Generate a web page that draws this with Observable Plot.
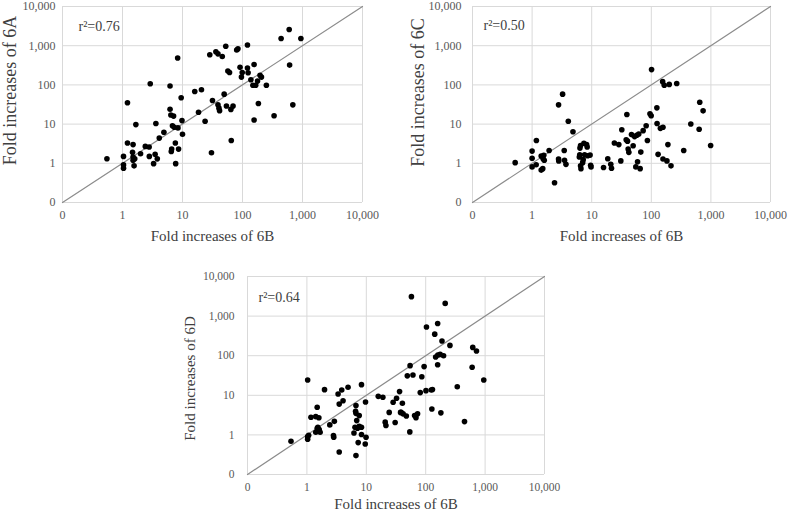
<!DOCTYPE html>
<html><head><meta charset="utf-8">
<script src="https://cdn.jsdelivr.net/npm/d3@7"></script>
<script src="https://cdn.jsdelivr.net/npm/@observablehq/plot@0.6"></script>
<style>
html,body{margin:0;padding:0;background:#fff;}
#root{position:relative;width:800px;height:512px;overflow:hidden;background:#fff;}
.panel{position:absolute;}
.panel svg{display:block;}
</style></head><body><div id="root"></div>
<script>
const axisTicks = [0.1, 1, 10, 100, 1000, 10000];
const tickLabels = ["0", "1", "10", "100", "1,000", "10,000"];

const xA = [0.55,1.04,1.04,1.04,1.21,1.21,1.47,1.5,1.5,1.5,1.56,1.6,1.67,2.0,2.4,2.78,2.8,2.9,3.3,3.5,3.6,3.8,4.1,4.9,6.2,6.2,6.4,6.5,6.6,6.8,7.1,7.3,7.6,7.7,8.3,8.4,8.6,9.5,9.8,10,16,18.5,20.7,23.8,28.5,30.4,31.6,36,39,39,40.5,41.5,46,49.5,52.6,54,57,60.8,64,65,69.6,80,84,91,96,99,121,121,124,138,149,156,156,166,178,184,196,207,250,336,440,600,610,690,940];
const yA = [1.31,1.5,0.91,0.75,35,3.3,1.9,3.0,1.2,1.45,0.86,1.3,9.7,1.76,2.7,2.6,1.5,107,0.98,1.7,10.4,1.3,4.4,6.2,94,24,17,2.0,2.3,9.1,16,8.3,3.3,0.98,485,8,2.3,47,12.3,5.5,68,20,75,11.8,590,1.86,40,700,620,31,25.5,22,530,58,965,29,225,208,23.7,3.8,28.8,780,830,280,158,208,1040,270,205,135,98,330,12.7,98,125,33.5,175,158,98,16.4,1530,2600,320,31,1530];

const xC = [0.52,1.0,1.0,1.0,1.18,1.17,1.42,1.42,1.51,1.53,1.57,1.6,1.93,2.38,2.78,2.78,2.8,3.25,3.46,3.5,3.7,4.05,4.85,6.2,6.3,6.35,6.5,6.5,6.6,7.05,7.2,7.4,7.6,8.2,8.4,8.55,9.4,9.6,9.75,15.8,18.6,20.9,21.5,24,28.5,30.8,32,37.9,38.9,39.9,40.9,42,46.5,49.6,52.4,55,57,58.8,61.6,65,66.7,73,82,86,95,99.5,101,124,125,130,142,155,157,157,165,183,190,200,214,267,350,460,635,650,740,990];
const yC = [1.04,2.05,1.34,0.81,3.8,0.92,1.53,0.67,0.73,1.3,1.6,1.2,2.13,0.32,31,1.29,1.15,58,2.13,1.19,0.94,11.8,6.4,1.45,1.65,2.44,2.85,0.86,0.73,1.04,1.24,3.26,1.65,3.0,2.6,1.56,1.62,0.89,0.81,0.78,1.31,0.94,0.75,3.3,3.0,1.15,7.2,3.96,17.6,3.67,2.3,1.9,5.4,2.8,4.8,0.81,5.2,1.1,5.6,0.73,1.93,6.8,9.1,3.8,18.3,16.3,246,26,10.4,1.69,7.8,121,8.3,1.29,98,1.15,3.0,103,0.86,109,2.13,10.1,7.4,36,21.8,2.85];

const xD = [0.54,1.03,1.03,1.03,1.07,1.17,1.41,1.49,1.59,1.49,1.53,1.61,1.67,1.41,1.53,1.98,2.43,2.9,2.8,2.83,3.35,3.86,4.93,3.5,4.06,3.5,6.7,6.6,6.7,6.9,8.3,9.7,6.45,7.1,7.6,8.3,6.2,8.3,7.3,9.6,9.9,6.7,7.6,15.9,19,20.8,21.4,24.3,28.3,30.6,32.3,36.3,37.7,40.5,38.6,41.7,47.2,54,49,61,54.6,57.5,65,68.6,73,81,86,94,101,103,124,130,127,142,159,147,159,160,175,180,188,200,213,256,340,450,605,620,716,950];
const yD = [0.69,24.4,0.91,0.78,0.98,2.8,2.9,5.0,2.7,1.47,1.29,1.36,1.17,1.17,1.56,13.9,1.79,2.2,0.96,0.87,10.8,13.6,15.9,6.0,7.3,0.37,5.5,3.95,3.5,2.3,18.6,6.8,1.56,1.47,1.65,1.56,1.12,1.02,0.64,0.59,0.87,0.30,3.07,9.4,8.9,2.1,1.72,3.7,6.7,2.05,8.4,12.4,3.7,6.3,3.7,3.4,3.0,1.19,31,32.5,56,3100,3.07,2.7,3.4,11.7,29.5,53,13.1,530,13.6,14,4.5,350,650,92.5,59,104,108,3.6,235,100,2090,182,16.5,2.17,51,162,131,24.4];

const xTitle = "Fold increases of 6B";
const yTitles = ["Fold increases of 6A", "Fold increases of 6C", "Fold increases of 6D"];
const r2Labels = ["r\u00B2=0.76", "r\u00B2=0.50", "r\u00B2=0.64"];

const fmt = d => tickLabels[axisTicks.indexOf(d)];

function makePanel(cfg) {
  const idx = d3.range(cfg.xs.length);
  const diag = [axisTicks[0], axisTicks[axisTicks.length - 1]];
  const chart = Plot.plot({
    width: cfg.width, height: cfg.height,
    marginLeft: cfg.ml, marginRight: cfg.mr, marginTop: cfg.mt, marginBottom: cfg.mb,
    style: {fontFamily: "'Liberation Serif', 'Times New Roman', serif", color: "#595959", background: "transparent", overflow: "visible"},
    x: {type: "log", domain: diag},
    y: {type: "log", domain: diag},
    marks: [
      Plot.gridX(axisTicks, {stroke: "#d9d9d9", strokeOpacity: 1, strokeWidth: 1}),
      Plot.gridY(axisTicks, {stroke: "#d9d9d9", strokeOpacity: 1, strokeWidth: 1}),
      Plot.axisX(axisTicks, {tickSize: 0, tickPadding: cfg.xpad, tickFormat: fmt, fontSize: cfg.tickFont, label: null}),
      Plot.axisY(axisTicks, {tickSize: 0, tickPadding: cfg.ypad, tickFormat: fmt, fontSize: cfg.tickFont, label: null}),
      Plot.line(diag, {x: d => d, y: d => d, stroke: "#8c8c8c", strokeWidth: 1.2}),
      Plot.dot(idx, {x: i => cfg.xs[i], y: i => cfg.ys[i], r: 2.8, fill: "#000", stroke: "none"}),
      Plot.text([cfg.r2], {text: d => d, frameAnchor: "top-left", textAnchor: "start", lineAnchor: "middle", dx: cfg.r2dx, dy: cfg.r2dy, fontSize: 14, fill: "#404040"}),
      Plot.text([xTitle], {text: d => d, frameAnchor: "bottom", textAnchor: "middle", lineAnchor: "middle", dy: cfg.xtdy, fontSize: 15, fill: "#404040"}),
      Plot.text([cfg.yTitle], {text: d => d, frameAnchor: "left", textAnchor: "middle", lineAnchor: "middle", rotate: -90, dx: cfg.ytdx, dy: cfg.ytdy, fontSize: cfg.ytFont, fill: "#404040"})
    ]
  });
  const div = document.createElement("div");
  div.className = "panel";
  div.style.left = cfg.left + "px";
  div.style.top = cfg.top + "px";
  div.style.width = cfg.width + "px";
  div.appendChild(chart);
  document.getElementById("root").appendChild(div);
}

makePanel({xs: xA, ys: yA, r2: r2Labels[0], yTitle: yTitles[0], left: 0, top: 0, width: 400, height: 250,
  ml: 62, mr: 38, mt: 6, mb: 48, xpad: 8, ypad: 7, tickFont: 12, r2dx: 16, r2dy: 20, xtdy: 34, ytdx: -52, ytdy: -14, ytFont: 18});
makePanel({xs: xC, ys: yC, r2: r2Labels[1], yTitle: yTitles[1], left: 400, top: 0, width: 400, height: 250,
  ml: 72, mr: 30, mt: 6, mb: 48, xpad: 8, ypad: 11, tickFont: 12, r2dx: 11, r2dy: 19, xtdy: 34, ytdx: -54, ytdy: -12, ytFont: 18});
makePanel({xs: xD, ys: yD, r2: r2Labels[2], yTitle: yTitles[2], left: 180, top: 260, width: 420, height: 252,
  ml: 67, mr: 56, mt: 16, mb: 38, xpad: 8, ypad: 13, tickFont: 11.5, r2dx: 11, r2dy: 21, xtdy: 30, ytdx: -57, ytdy: 3, ytFont: 15});
</script>
</body></html>
